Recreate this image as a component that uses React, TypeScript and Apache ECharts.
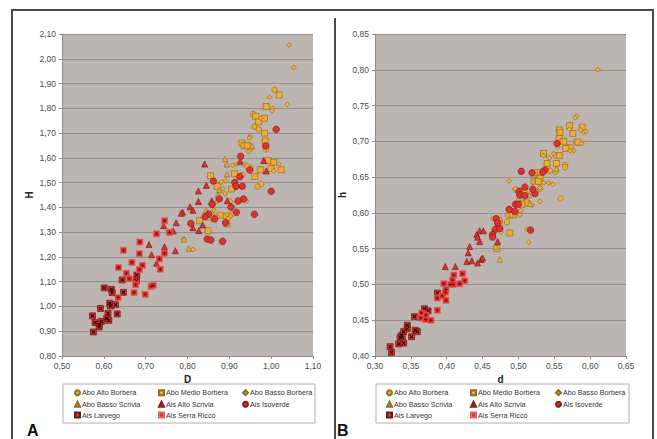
import React, { useEffect, useRef } from "react";
import * as echarts from "echarts";

// ---------- Data: chart A (D vs H) ----------
const aAltoBorbera = [[1.008,1.875],[0.957,1.776],[0.960,1.726],[0.970,1.715],[0.987,1.634],[0.943,1.566],[0.976,1.495],[0.967,1.484],[0.901,1.424],[0.906,1.372],[0.930,1.530],[0.888,1.365]];
const aMedioBorbera = [[1.019,1.854],[0.988,1.807],[0.963,1.768],[0.984,1.760],[0.970,1.745],[0.984,1.700],[0.930,1.660],[0.935,1.649],[0.943,1.649],[0.986,1.668],[0.974,1.552],[0.993,1.589],[1.006,1.582],[1.024,1.552],[1.000,1.557],[0.855,1.528],[0.912,1.536],[0.961,1.524],[0.871,1.485],[0.905,1.474],[0.878,1.368],[0.829,1.346],[0.849,1.306],[0.894,1.333]];
const aBassoBorbera = [[1.043,2.056],[1.054,1.965],[0.996,1.844],[1.039,1.816],[1.004,1.800],[1.002,1.790],[0.975,1.760],[0.950,1.687],[0.948,1.680],[0.950,1.632],[0.945,1.625],[0.908,1.570],[0.918,1.575],[0.934,1.574],[0.952,1.563],[1.019,1.575],[1.006,1.547],[0.933,1.532],[0.881,1.503],[0.891,1.508],[0.890,1.455],[0.940,1.426],[0.871,1.424],[0.918,1.420],[0.863,1.389],[0.860,1.373],[0.871,1.362],[0.895,1.370],[0.903,1.365],[0.898,1.355],[0.791,1.272],[0.813,1.230],[0.885,1.475]];
const aBassoScrivia = [[0.954,1.648],[0.890,1.595],[0.894,1.574],[0.894,1.534],[0.876,1.470],[0.873,1.450],[0.844,1.389],[0.863,1.352],[0.792,1.271],[0.803,1.234],[0.850,1.360]];
const aAltoScrivia = [[0.926,1.586],[0.982,1.589],[0.988,1.547],[0.841,1.575],[0.845,1.489],[0.826,1.466],[0.826,1.424],[0.858,1.426],[0.895,1.427],[0.806,1.402],[0.813,1.388],[0.788,1.381],[0.836,1.329],[0.813,1.318],[0.827,1.306],[0.773,1.338],[0.743,1.326],[0.766,1.305],[0.785,1.376],[0.708,1.250],[0.745,1.241],[0.771,1.225],[0.714,1.209],[0.726,1.174]];
const aIsoverde = [[1.012,1.715],[0.987,1.648],[0.927,1.606],[0.949,1.551],[0.925,1.524],[0.862,1.506],[0.913,1.501],[0.916,1.485],[0.931,1.485],[1.000,1.465],[0.876,1.434],[0.934,1.434],[0.921,1.426],[0.859,1.412],[0.904,1.401],[0.917,1.380],[0.960,1.372],[0.851,1.373],[0.842,1.362],[0.865,1.354],[0.808,1.335],[0.891,1.338],[0.847,1.272],[0.856,1.268],[0.884,1.263]];
const aLarvego = [[0.679,1.127],[0.678,1.104],[0.644,1.107],[0.601,1.075],[0.618,1.069],[0.620,1.056],[0.647,1.057],[0.614,1.013],[0.616,1.002],[0.628,1.007],[0.592,0.992],[0.610,0.972],[0.632,0.970],[0.573,0.962],[0.607,0.952],[0.612,0.944],[0.595,0.940],[0.579,0.935],[0.589,0.927],[0.589,0.917],[0.575,0.897]];
const aSerraRicco = [[0.745,1.346],[0.726,1.293],[0.757,1.299],[0.686,1.260],[0.647,1.227],[0.685,1.213],[0.745,1.215],[0.733,1.192],[0.667,1.178],[0.692,1.166],[0.635,1.157],[0.685,1.149],[0.735,1.150],[0.654,1.134],[0.661,1.112],[0.676,1.088],[0.672,1.056],[0.699,1.049],[0.713,1.081],[0.718,1.085],[0.634,1.036]];

// ---------- Data: chart B (d vs h) ----------
const bAltoBorbera = [[0.559,0.620],[0.565,0.667],[0.565,0.664],[0.544,0.659],[0.529,0.657],[0.496,0.633],[0.530,0.634],[0.486,0.596],[0.484,0.587],[0.580,0.699],[0.583,0.698],[0.552,0.680],[0.474,0.590]];
const bMedioBorbera = [[0.571,0.722],[0.557,0.716],[0.558,0.712],[0.589,0.720],[0.576,0.711],[0.557,0.704],[0.563,0.700],[0.583,0.699],[0.572,0.691],[0.566,0.690],[0.535,0.683],[0.557,0.680],[0.540,0.669],[0.553,0.669],[0.522,0.656],[0.530,0.648],[0.522,0.644],[0.528,0.644],[0.508,0.630],[0.511,0.614],[0.505,0.612],[0.493,0.597],[0.473,0.585],[0.488,0.572],[0.470,0.550]];
const bBassoBorbera = [[0.611,0.800],[0.581,0.735],[0.579,0.733],[0.571,0.717],[0.587,0.716],[0.591,0.713],[0.594,0.714],[0.558,0.700],[0.555,0.692],[0.588,0.697],[0.577,0.687],[0.572,0.687],[0.535,0.680],[0.549,0.683],[0.543,0.677],[0.551,0.656],[0.487,0.645],[0.520,0.643],[0.535,0.642],[0.542,0.642],[0.548,0.640],[0.530,0.635],[0.530,0.616],[0.519,0.611],[0.503,0.603],[0.502,0.597],[0.489,0.600],[0.464,0.592],[0.476,0.573],[0.512,0.577],[0.514,0.559]];
const bBassoScrivia = [[0.553,0.662],[0.515,0.625],[0.516,0.613],[0.468,0.553],[0.474,0.535],[0.500,0.620],[0.490,0.598]];
const bAltoScrivia = [[0.446,0.575],[0.451,0.575],[0.442,0.570],[0.443,0.566],[0.446,0.560],[0.471,0.560],[0.432,0.553],[0.430,0.544],[0.428,0.532],[0.435,0.533],[0.443,0.530],[0.448,0.535],[0.450,0.537],[0.398,0.525],[0.412,0.525],[0.470,0.580]];
const bIsoverde = [[0.554,0.697],[0.504,0.658],[0.519,0.656],[0.537,0.660],[0.534,0.657],[0.509,0.636],[0.501,0.630],[0.502,0.625],[0.509,0.624],[0.523,0.627],[0.520,0.633],[0.496,0.612],[0.500,0.612],[0.487,0.605],[0.495,0.602],[0.469,0.592],[0.471,0.586],[0.468,0.577],[0.474,0.578],[0.464,0.570],[0.464,0.566],[0.517,0.576]];
const bLarvego = [[0.387,0.488],[0.369,0.466],[0.374,0.463],[0.355,0.455],[0.345,0.443],[0.345,0.438],[0.356,0.436],[0.359,0.434],[0.340,0.434],[0.337,0.429],[0.351,0.427],[0.335,0.426],[0.338,0.426],[0.333,0.417],[0.340,0.418],[0.321,0.413],[0.323,0.405]];
const bSerraRicco = [[0.410,0.513],[0.422,0.515],[0.425,0.505],[0.408,0.506],[0.396,0.501],[0.405,0.500],[0.409,0.500],[0.418,0.501],[0.399,0.493],[0.398,0.489],[0.387,0.481],[0.394,0.484],[0.399,0.478],[0.387,0.464],[0.365,0.460],[0.371,0.457],[0.364,0.453],[0.371,0.451],[0.378,0.450]];

const seriesNames = ["Abo Alto Borbera","Abo Medio Borbera","Abo Basso Borbera","Abo Basso Scrivia","Ais Alto Scrivia","Ais Isoverde","Ais Larvego","Ais Serra Riccò"];
const dataA = [aAltoBorbera,aMedioBorbera,aBassoBorbera,aBassoScrivia,aAltoScrivia,aIsoverde,aLarvego,aSerraRicco];
const dataB = [bAltoBorbera,bMedioBorbera,bBassoBorbera,bBassoScrivia,bAltoScrivia,bIsoverde,bLarvego,bSerraRicco];
const legendColumns = [["Abo Alto Borbera","Abo Basso Scrivia","Ais Larvego"],["Abo Medio Borbera","Ais Alto Scrivia","Ais Serra Riccò"],["Abo Basso Borbera","Ais Isoverde"]];

const ORANGE = "#f2ad30";
const ORANGE_B = "#8c6e2a";
const RED = "#e1302e";
const RED_B = "#7a2020";
const FONT = "Liberation Sans, Arial, sans-serif";

const styles = [
  { symbol: "circle", size: 5.5, color: ORANGE, border: ORANGE_B },
  { symbol: "rect", size: 6, color: ORANGE, border: ORANGE_B },
  { symbol: "diamond", size: 5, color: ORANGE, border: ORANGE_B },
  { symbol: "triangle", size: 5.5, color: ORANGE, border: ORANGE_B },
  { symbol: "triangle", size: 6, color: RED, border: RED_B },
  { symbol: "circle", size: 6.5, color: RED, border: RED_B },
  { symbol: "rect", size: 6, color: RED, border: "#6a1a1a" },
  { symbol: "rect", size: 6, color: RED, border: "#e86060" },
];
// inner marks drawn on top of the Larvego (x) and Serra Riccò (+) squares
const overlays: Record<number, { symbol: string; color: string }> = {
  6: { symbol: "path://M0,0L10,10M10,0L0,10", color: "#2a0a0a" },
  7: { symbol: "path://M5,0L5,10M0,5L10,5", color: "#7a1010" },
};

const fmt = (v: number) => v.toFixed(2).replace(".", ",");

function axis(min: number, max: number, interval: number, gridIndex: number, isY: boolean, name: string, nameGap: number) {
  return {
    type: "value",
    gridIndex,
    min,
    max,
    interval,
    name,
    nameLocation: "middle",
    nameGap,
    nameTextStyle: { fontFamily: FONT, fontWeight: "bold", fontSize: 10, color: "#222" },
    axisLine: { show: true, lineStyle: { color: "#8c8c8c", width: 1 } },
    axisTick: { show: true, length: 3, lineStyle: { color: "#8c8c8c" } },
    axisLabel: { fontFamily: FONT, fontSize: 8.5, color: "#4a4a4a", formatter: fmt, margin: isY ? 6 : 5, showMinLabel: true, showMaxLabel: true },
    splitLine: { show: isY, lineStyle: { color: "#948d89", width: 1 } },
  };
}

function makeSeries(data: number[][][], idx: number) {
  const out: any[] = [];
  data.forEach((d, i) => {
    out.push({
      type: "scatter",
      name: seriesNames[i],
      xAxisIndex: idx,
      yAxisIndex: idx,
      data: d,
      symbol: styles[i].symbol,
      symbolSize: styles[i].size,
      itemStyle: { color: styles[i].color, borderColor: styles[i].border, borderWidth: 0.7, opacity: 1 },
      z: 2 + i,
    });
    const ov = overlays[i];
    if (ov) {
      out.push({
        type: "scatter",
        name: seriesNames[i] + " mark",
        xAxisIndex: idx,
        yAxisIndex: idx,
        data: d,
        symbol: ov.symbol,
        symbolSize: 3.4,
        silent: true,
        itemStyle: { color: "none", borderColor: ov.color, borderWidth: 1, opacity: 1 },
        z: 2 + i,
        zlevel: 0,
      });
    }
  });
  return out;
}

function legends(colX: number[]) {
  const rowsY = [392.7, 404.3, 415];
  const out: any[] = [];
  legendColumns.forEach((col, c) => {
    col.forEach((n, r) => {
      out.push({
        data: [n],
        left: colX[c],
        top: rowsY[r] - 4.5,
        padding: 0,
        itemWidth: 5,
        itemHeight: 5,
        selectedMode: false,
        textStyle: { fontFamily: FONT, fontSize: 7.2, color: "#333", lineHeight: 9, padding: [0, 0, 0, -3] },
      });
    });
  });
  return out;
}

export default function App() {
  const ref = useRef<HTMLDivElement>(null);
  useEffect(() => {
    if (!ref.current) return;
    const chart = echarts.init(ref.current, undefined, { renderer: "svg" });
    chart.setOption({
      animation: false,
      backgroundColor: "#ffffff",
      grid: [
        { left: 62, top: 34, width: 251, height: 322, show: true, backgroundColor: "#bdb5b1", borderWidth: 0 },
        { left: 375, top: 34, width: 251, height: 322, show: true, backgroundColor: "#bdb5b1", borderWidth: 0 },
      ],
      xAxis: [axis(0.5, 1.1, 0.1, 0, false, "D", 13), axis(0.3, 0.65, 0.05, 1, false, "d", 13)],
      yAxis: [axis(0.8, 2.1, 0.1, 0, true, "H", 28), axis(0.4, 0.85, 0.05, 1, true, "h", 28)],
      legend: [...legends([74, 158, 242]), ...legends([386, 470, 555])],
      series: [...makeSeries(dataA, 0), ...makeSeries(dataB, 1)],
      graphic: [
        { type: "polyline", shape: { points: [[12, 440], [12, 10], [653, 10], [653, 440]] }, style: { stroke: "#4a4a4a", lineWidth: 2, fill: "none" }, z: 0 },
        { type: "line", shape: { x1: 335, y1: 18, x2: 335, y2: 440 }, style: { stroke: "#4a4a4a", lineWidth: 2 }, z: 0 },
        { type: "rect", shape: { x: 63, y: 384, width: 252, height: 39 }, style: { fill: "#fff", stroke: "#b0b0b0", lineWidth: 1 }, z: 0 },
        { type: "rect", shape: { x: 376, y: 384, width: 253, height: 39 }, style: { fill: "#fff", stroke: "#b0b0b0", lineWidth: 1 }, z: 0 },
        { type: "text", left: 27, top: 422, style: { text: "A", fontFamily: FONT, fontWeight: "bold", fontSize: 16, fill: "#111" }, z: 1 },
        { type: "text", left: 337, top: 422, style: { text: "B", fontFamily: FONT, fontWeight: "bold", fontSize: 16, fill: "#111" }, z: 1 },
      ],
    });
    return () => chart.dispose();
  }, []);
  return <div ref={ref} style={{ position: "absolute", left: 0, top: 0, width: 657, height: 439, background: "#fff" }} />;
}
